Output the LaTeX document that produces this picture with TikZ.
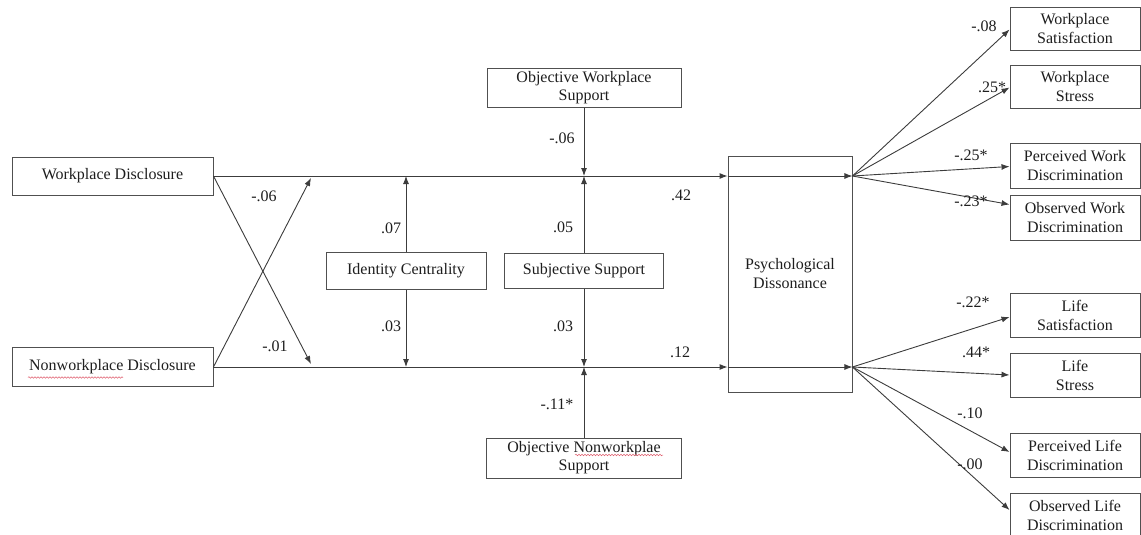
\documentclass[tikz,border=0pt]{standalone}
\usepackage{fontspec}
\setmainfont{Liberation Serif}
\usetikzlibrary{arrows.meta,decorations.pathmorphing}
\definecolor{linec}{HTML}{3C3C3C}
\definecolor{boxc}{HTML}{505050}
\definecolor{txtc}{HTML}{1E1E1E}
\definecolor{spellc}{HTML}{E06070}
\begin{document}
\begin{tikzpicture}[x=1pt,y=-1pt,
  box/.style={draw=boxc, line width=0.9pt, fill=white, align=center, inner sep=0pt,
    font=\fontsize{16}{19}\selectfont, text=txtc},
  outbox/.style={box, minimum width=130pt, minimum height=44pt},
  conn/.style={draw=linec, line width=0.9pt},
  arr/.style={conn, -{Latex[length=8pt,width=6pt]}},
  lab/.style={font=\fontsize{16}{19}\selectfont, text=txtc, inner sep=0pt},
  spell/.style={draw=spellc, line width=0.5pt, decorate,
    decoration={snake, amplitude=0.8pt, segment length=3pt}}]
\useasboundingbox (0,0) rectangle (1141,535);

% left boxes
\node[box, minimum width=201pt, minimum height=38pt] (wd) at (112.5,176) {Workplace Disclosure};
\node[box, minimum width=201pt, minimum height=39pt] (nd) at (112.5,367) {Nonworkplace Disclosure};

% moderators
\node[box, minimum width=160pt, minimum height=37pt] (ic) at (406,271) {Identity Centrality};
\node[box, minimum width=194pt, minimum height=39pt] (ows) at (584,88) {Objective Workplace\\[-1pt]Support};
\node[box, minimum width=159pt, minimum height=35pt] (ss) at (584,271) {Subjective Support};
\node[box, minimum width=195pt, minimum height=40pt] (ons) at (584,458) {Objective Nonworkplae\\[-1pt]Support};

% mediator
\node[box, minimum width=124pt, minimum height=236pt] (pd) at (790,274) {Psychological\\Dissonance};

% outcomes
\node[outbox, minimum height=43pt] (ws)  at (1075,28.5)  {Workplace\\Satisfaction};
\node[outbox, minimum height=43pt] (wst) at (1075,86.5)  {Workplace\\Stress};
\node[outbox, minimum height=45pt] (pwd) at (1075,165.5) {Perceived Work\\Discrimination};
\node[outbox, minimum height=45pt] (owd) at (1075,217.5) {Observed Work\\Discrimination};
\node[outbox] (ls)  at (1075,315) {Life\\Satisfaction};
\node[outbox] (lst) at (1075,375) {Life\\Stress};
\node[outbox] (pld) at (1075,455) {Perceived Life\\Discrimination};
\node[outbox] (old) at (1075,515) {Observed Life\\Discrimination};

% junction coordinates
\coordinate (ctop) at (311,178);
\coordinate (cbot) at (311,364);
\coordinate (pl1) at (pd.west |- wd.east);
\coordinate (pr1) at (pd.east |- wd.east);
\coordinate (pl2) at (pd.west |- nd.east);
\coordinate (pr2) at (pd.east |- nd.east);
\coordinate (ict) at (ic.north |- wd.east);
\coordinate (icb) at (ic.south |- nd.east);
\coordinate (sst) at (ss.north |- wd.east);
\coordinate (ssb) at (ss.south |- nd.east);

% main paths
\draw[arr] (wd.east) -- (pl1);
\draw[arr] (nd.east) -- (pl2);
\draw[arr] (pl1) -- (pr1);
\draw[arr] (pl2) -- (pr2);

% cross paths
\draw[arr] (wd.east) -- (cbot);
\draw[arr] (nd.east) -- (ctop);

% moderator arrows
\draw[arr] (ic.north) -- (ict);
\draw[arr] (ic.south) -- (icb);
\draw[arr] (ows.south) -- (sst);
\draw[arr] (ss.north) -- (sst);
\draw[arr] (ss.south) -- (ssb);
\draw[arr] (ons.north) -- (ssb);

% outcome fans
\draw[arr] (pr1) -- ([yshift=-1pt]ws.west);
\draw[arr] (pr1) -- ([yshift=-1pt]wst.west);
\draw[arr] (pr1) -- ([yshift=-1pt]pwd.west);
\draw[arr] (pr1) -- ([yshift=13pt]owd.west);
\draw[arr] (pr2) -- ([yshift=-2pt]ls.west);
\draw[arr] (pr2) -- (lst.west);
\draw[arr] (pr2) -- ([yshift=3pt]pld.west);
\draw[arr] (pr2) -- ([yshift=5pt]old.west);

% coefficients
\node[lab] (k1) at (264,196) {-.06};
\node[lab] (k2) at (275,346) {-.01};
\node[lab] (k3) at (391,228) {.07};
\node[lab] (k4) at (391,326) {.03};
\node[lab] (k5) at (562,138) {-.06};
\node[lab] (k6) at (563,227) {.05};
\node[lab] (k7) at (563,326) {.03};
\node[lab] (k8) at (557,404) {-.11*};
\node[lab] (k9) at (681,195) {.42};
\node[lab] (k10) at (680,352) {.12};
\node[lab] (k11) at (984,26) {-.08};
\node[lab] (k12) at (992,87) {.25*};
\node[lab] (k13) at (971,155) {-.25*};
\node[lab] (k14) at (971,201) {-.23*};
\node[lab] (k15) at (973,302) {-.22*};
\node[lab] (k16) at (976,352) {.44*};
\node[lab] (k17) at (970,413) {-.10};
\node[lab] (k18) at (970,464) {-.00};

% spell-check underlines
\draw[spell] (28,377.5) -- (123,377.5);
\draw[spell] (575,455) -- (663,455);
\end{tikzpicture}
\end{document}
